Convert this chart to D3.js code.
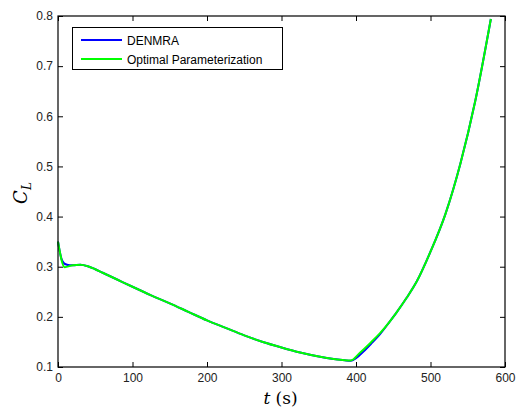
<!DOCTYPE html>
<html><head><meta charset="utf-8">
<script src="https://cdn.jsdelivr.net/npm/d3@7"></script>
<style>body{margin:0;background:#fff}svg{display:block}</style>
</head><body>
<script>
const xTicks = [0,100,200,300,400,500,600];
const yTicks = [0.1,0.2,0.3,0.4,0.5,0.6,0.7,0.8];
const seriesNames = ["DENMRA","Optimal Parameterization"];
const seriesColors = ["#0000ff","#00ff00"];
const tBlue = [0,2,5,8,12,16,20,30,40,50,60,70,80,100,125,150,175,200,225,250,275,300,325,350,370,385,393,400,410,420,432,445,455,468,482,500,520,540,560,581];
const clBlue = [0.35,0.333,0.314,0.307,0.304,0.303,0.303,0.304,0.301,0.295,0.288,0.281,0.274,0.260,0.243,0.227,0.210,0.193,0.178,0.163,0.150,0.139,0.129,0.121,0.116,0.1133,0.1125,0.1175,0.131,0.146,0.165,0.190,0.210,0.238,0.272,0.330,0.405,0.505,0.630,0.794];
const tGreen = [0,9,20,30,40,50,60,70,80,100,125,150,175,200,225,250,275,300,325,350,370,385,393,405,420,432,445,455,468,482,500,520,540,560,581];
const clGreen = [0.35,0.299,0.303,0.304,0.301,0.295,0.288,0.281,0.274,0.260,0.243,0.227,0.210,0.193,0.178,0.163,0.150,0.139,0.129,0.121,0.116,0.1135,0.113,0.128,0.149,0.167,0.190,0.210,0.238,0.272,0.330,0.405,0.505,0.630,0.794];

const W=520,H=414, L=58,R=505,T=16,B=367;
const svg=d3.select("body").append("svg").attr("width",W).attr("height",H);
const x=d3.scaleLinear().domain([0,600]).range([L,R]);
const y=d3.scaleLinear().domain([0.1,0.8]).range([B,T]);
const font="Liberation Sans, Arial, Helvetica, sans-serif";

const line=d3.line().x(d=>x(d[0])).y(d=>y(d[1])).curve(d3.curveMonotoneX);
const g=svg.append("g");
const data=[d3.zip(tBlue,clBlue), d3.zip(tGreen,clGreen)];
data.forEach((d,i)=>{
  g.append("path").datum(d).attr("d",line).attr("fill","none")
   .attr("stroke",seriesColors[i]).attr("stroke-width",2).attr("stroke-linejoin","round");
});

// axes
const ax=svg.append("g");
const xb=d3.axisBottom(x).tickValues(xTicks).tickSize(-5).tickPadding(6).tickFormat(d3.format("d"));
const xt=d3.axisTop(x).tickValues(xTicks).tickSize(-5).tickFormat("");
const yl=d3.axisLeft(y).tickValues(yTicks).tickSize(-5).tickPadding(5).tickFormat(d3.format(".1f"));
const yr=d3.axisRight(y).tickValues(yTicks).tickSize(-5).tickFormat("");
[[xb,`translate(0,${B})`],[xt,`translate(0,${T})`],[yl,`translate(${L},0)`],[yr,`translate(${R},0)`]].forEach(([a,tr])=>{
  const gg=ax.append("g").attr("transform",tr).call(a);
  gg.select(".domain").remove();
  gg.selectAll("line").attr("stroke","#000");
  gg.selectAll("text").attr("fill","#222").attr("font-family",font).attr("font-size",12);
});
svg.append("rect").attr("x",L).attr("y",T).attr("width",R-L).attr("height",B-T)
  .attr("fill","none").attr("stroke","#000").attr("stroke-width",1.2);

// axis labels
svg.append("text").attr("x",x(300)-1).attr("y",404).attr("text-anchor","middle")
  .attr("font-family","DejaVu Serif, Liberation Serif, serif").attr("font-size",17)
  .html('<tspan font-style="italic">t</tspan> (s)');
const yg=svg.append("text").attr("transform","translate(27,193) rotate(-90)").attr("text-anchor","middle")
  .attr("font-family","DejaVu Serif, Liberation Serif, serif").attr("font-style","italic").attr("font-size",18);
yg.append("tspan").text("C");
yg.append("tspan").attr("font-size",12).attr("dy",4).text("L");

// legend
const lg=svg.append("g");
lg.append("rect").attr("x",72.5).attr("y",27.5).attr("width",210).attr("height",42)
  .attr("fill","#fff").attr("stroke","#000").attr("stroke-width",1);
seriesNames.forEach((n,i)=>{
  const yy=40+i*19;
  lg.append("line").attr("x1",81).attr("x2",122).attr("y1",yy).attr("y2",yy)
    .attr("stroke",seriesColors[i]).attr("stroke-width",2);
  lg.append("text").attr("x",127).attr("y",yy+4.5).attr("font-family",font).attr("font-size",12)
    .attr("fill","#000").text(n);
});
</script>
</body></html>
